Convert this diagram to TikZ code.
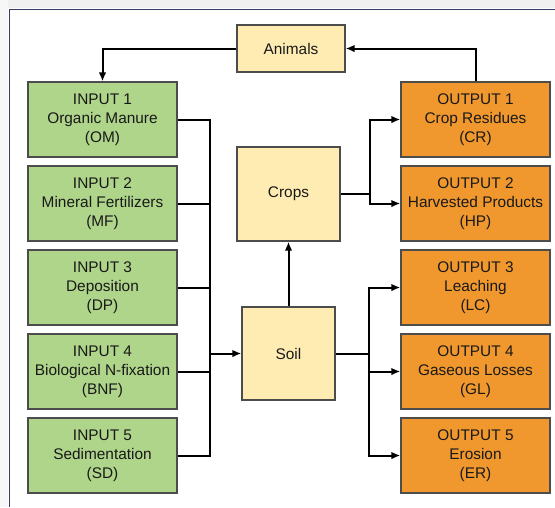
\documentclass[tikz,border=0pt]{standalone}
\usepackage{fontspec}
\setmainfont{Liberation Sans}
\usetikzlibrary{arrows.meta}
\definecolor{ingreen}{HTML}{AED58A}
\definecolor{outorange}{HTML}{F0982E}
\definecolor{midyellow}{HTML}{FFECB3}
\definecolor{framecol}{HTML}{3A3A68}
\begin{document}
\begin{tikzpicture}[x=1pt,y=-1pt,
  box/.style={draw=black!70, line width=1.2pt, inner sep=0pt, align=center,
    font=\fontsize{15.4}{19}\selectfont, text=black!90},
  inbox/.style={box, fill=ingreen, minimum width=149pt, minimum height=75pt},
  outbox/.style={box, fill=outorange, minimum width=149pt, minimum height=75pt},
  midbox/.style={box, fill=midyellow},
  conn/.style={line width=2pt, black},
  arr/.style={conn, -{Latex[length=9pt,width=7.5pt]}}]
\useasboundingbox (0,0) rectangle (555,507);
% shadow and frame
\fill[black!6] (0,0) rectangle (555,8);
\fill[black!3] (0,0) rectangle (8,507);
\draw[framecol, line width=1.2pt] (9.5,507) -- (9.5,9.5) -- (555,9.5);
% nodes
\node[midbox, minimum width=108pt, minimum height=47pt] (animals) at (291,48.5) {Animals};
\node[midbox, minimum width=103pt, minimum height=94pt] (crops) at (288.5,194) {Crops};
\node[midbox, minimum width=93pt, minimum height=93pt] (soil) at (288.5,353.5) {Soil};
\node[inbox] (in1) at (102.5,119.5) {INPUT 1\\Organic Manure\\(OM)};
\node[inbox] (in2) at (102.5,203.5) {INPUT 2\\Mineral Fertilizers\\(MF)};
\node[inbox] (in3) at (102.5,287.5) {INPUT 3\\Deposition\\(DP)};
\node[inbox] (in4) at (102.5,371.5) {INPUT 4\\Biological N-fixation\\(BNF)};
\node[inbox] (in5) at (102.5,455.5) {INPUT 5\\Sedimentation\\(SD)};
\node[outbox] (out1) at (475.5,119.5) {OUTPUT 1\\Crop Residues\\(CR)};
\node[outbox] (out2) at (475.5,203.5) {OUTPUT 2\\Harvested Products\\(HP)};
\node[outbox] (out3) at (475.5,287.5) {OUTPUT 3\\Leaching\\(LC)};
\node[outbox] (out4) at (475.5,371.5) {OUTPUT 4\\Gaseous Losses\\(GL)};
\node[outbox] (out5) at (475.5,455.5) {OUTPUT 5\\Erosion\\(ER)};
% bus coordinates
\coordinate (inbus) at (209.5,353.5);
\coordinate (cropbus) at (370,194);
\coordinate (soilbus) at (368.5,353.5);
% input bus
\draw[conn] (in1.east) -| (inbus);
\draw[conn] (in5.east) -| (inbus);
\draw[conn] (in2.east) -- (in2.east -| inbus);
\draw[conn] (in3.east) -- (in3.east -| inbus);
\draw[conn] (in4.east) -- (in4.east -| inbus);
\draw[arr] (inbus) -- (soil.west);
% soil to crops
\draw[arr] (soil.north) -- (crops.south);
% crops to outputs
\draw[conn] (crops.east) -- (cropbus);
\draw[arr] (cropbus) |- (out1.west);
\draw[arr] (cropbus) |- (out2.west);
% soil to outputs
\draw[conn] (soil.east) -- (soilbus);
\draw[arr] (soilbus) |- (out3.west);
\draw[arr] (soilbus) |- (out4.west);
\draw[arr] (soilbus) |- (out5.west);
% animals loop
\draw[arr] (out1.north) |- (animals.east);
\draw[arr] (animals.west) -| (in1.north);
\end{tikzpicture}
\end{document}
